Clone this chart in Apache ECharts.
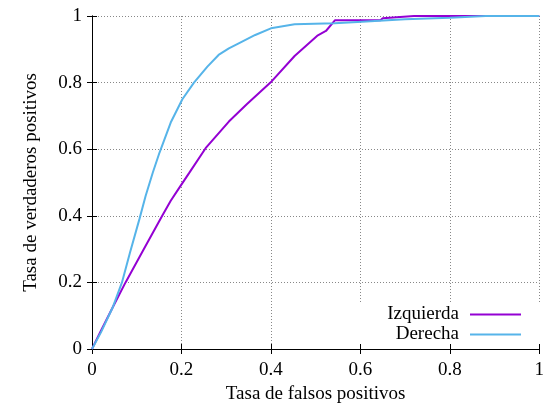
<!DOCTYPE html>
<html>
<head>
<meta charset="utf-8">
<script src="https://cdn.jsdelivr.net/npm/echarts@6/dist/echarts.min.js"></script>
<style>html,body{margin:0;padding:0;background:#fff}#c{width:547px;height:410px}</style>
</head>
<body>
<div id="c"></div>
<script>
// Data (false positive rate, true positive rate)
var izqX = [0, 0.02, 0.047, 0.075, 0.116, 0.157, 0.176, 0.195, 0.217, 0.254, 0.306, 0.346, 0.399, 0.453, 0.505, 0.523, 0.543, 0.645, 0.65, 0.72, 1];
var izqY = [0, 0.055, 0.127, 0.2, 0.3, 0.4, 0.445, 0.484, 0.528, 0.603, 0.683, 0.735, 0.8, 0.88, 0.942, 0.955, 0.987, 0.987, 0.993, 1, 1];
var derX = [0, 0.02, 0.047, 0.067, 0.085, 0.106, 0.12, 0.136, 0.151, 0.176, 0.202, 0.228, 0.258, 0.283, 0.306, 0.328, 0.365, 0.4, 0.453, 0.542, 0.594, 0.7, 0.8, 0.88, 1];
var derY = [0, 0.05, 0.127, 0.2, 0.29, 0.39, 0.46, 0.53, 0.59, 0.68, 0.75, 0.8, 0.848, 0.883, 0.903, 0.918, 0.943, 0.963, 0.975, 0.978, 0.982, 0.99, 0.995, 1, 1];
var names = ['Izquierda', 'Derecha'];
var xTitle = 'Tasa de falsos positivos';
var yTitle = 'Tasa de verdaderos positivos';

function pairs(xs, ys) { return xs.map(function (x, i) { return [x, ys[i]]; }); }

var font = 'Liberation Serif';
var fs = 19;
var chart = echarts.init(document.getElementById('c'), null, { renderer: 'canvas' });
var axisCommon = {
  type: 'value', min: 0, max: 1, interval: 0.2,
  axisLine: { show: true, lineStyle: { color: '#000', width: 1 } },
  axisTick: { show: true, inside: true, length: 5, lineStyle: { color: '#000' } }
};
chart.setOption({
  animation: false,
  backgroundColor: '#fff',
  textStyle: { fontFamily: font },
  grid: { left: 92, right: 3.5, top: 16, bottom: 61 },
  xAxis: [
    Object.assign({}, axisCommon, {
      position: 'bottom',
      name: xTitle, nameLocation: 'middle', nameGap: 34,
      nameTextStyle: { fontFamily: font, fontSize: fs, color: '#000' },
      axisLabel: { fontFamily: font, fontSize: fs, color: '#000', margin: 12 },
      splitLine: { show: true, lineStyle: { color: '#888', type: [1, 2], width: 1 } }
    }),
    Object.assign({}, axisCommon, {
      position: 'top', axisLabel: { show: false }, splitLine: { show: false }
    })
  ],
  yAxis: [
    Object.assign({}, axisCommon, {
      position: 'left',
      name: yTitle, nameLocation: 'middle', nameGap: 51,
      nameTextStyle: { fontFamily: font, fontSize: fs, color: '#000' },
      axisLabel: { fontFamily: font, fontSize: fs, color: '#000', margin: 10 },
      splitLine: { show: true, lineStyle: { color: '#888', type: [1, 2], width: 1 } }
    }),
    Object.assign({}, axisCommon, {
      position: 'right', axisLabel: { show: false }, splitLine: { show: false }
    })
  ],
  legend: [
    {
      data: [names[0]], right: 6, top: 302, align: 'right',
      padding: [3, 20, 3, 30], backgroundColor: '#fff',
      icon: 'rect', itemWidth: 51, itemHeight: 2,
      textStyle: { fontFamily: font, fontSize: fs, color: '#000', padding: [0, 6, 0, 0] }
    },
    {
      data: [names[1]], right: 6, top: 322, align: 'right',
      padding: [3, 20, 0, 37], backgroundColor: '#fff',
      icon: 'rect', itemWidth: 51, itemHeight: 2,
      textStyle: { fontFamily: font, fontSize: fs, color: '#000', padding: [0, 6, 0, 0] }
    }
  ],
  series: [
    {
      name: names[0], type: 'line', data: pairs(izqX, izqY), showSymbol: false,
      lineStyle: { color: '#9400d3', width: 2 }, itemStyle: { color: '#9400d3' }
    },
    {
      name: names[1], type: 'line', data: pairs(derX, derY), showSymbol: false,
      lineStyle: { color: '#56b4e9', width: 2 }, itemStyle: { color: '#56b4e9' }
    }
  ]
});
</script>
</body>
</html>
